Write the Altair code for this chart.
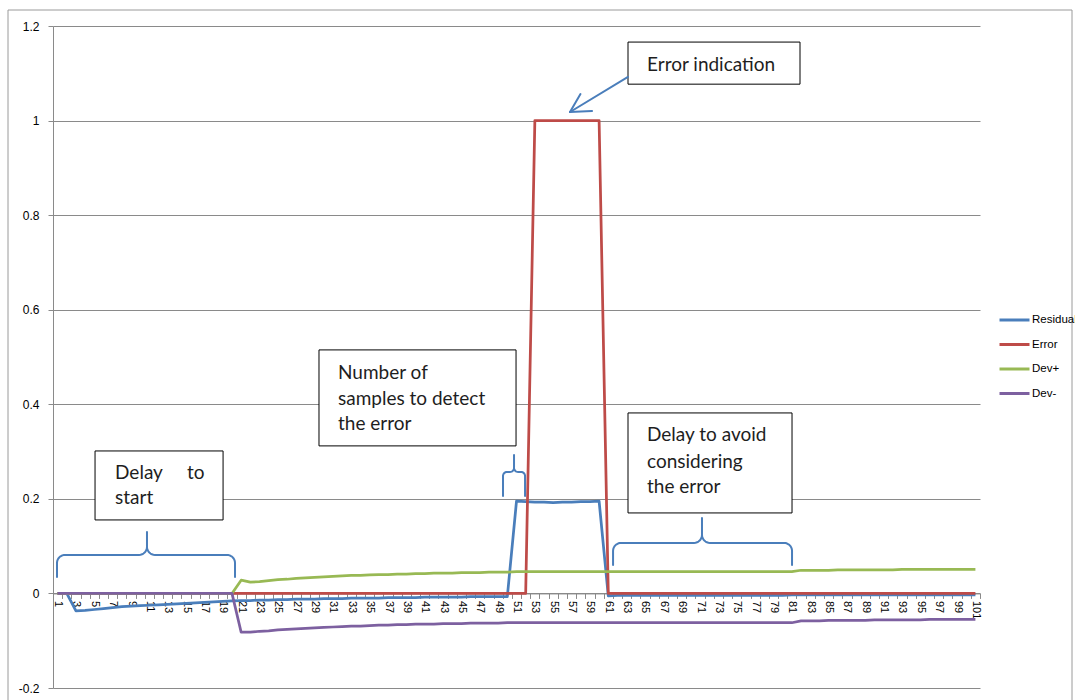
import math
import altair as alt
import pandas as pd

# ---------------- layout constants ----------------
W, H = 927, 662
X_DOMAIN = [0.5, 101.5]
Y_DOMAIN = [-0.2, 1.2]

# ---------------- data ----------------
categories = list(range(1, 102))
series_names = ["Residual", "Error", "Dev+", "Dev-"]
series_colors = ["#4A7EBB", "#BE4B48", "#98B954", "#7D60A0"]

residual = (
    [0.0, 0.0]
    + [-0.037, -0.036, -0.034, -0.032, -0.030, -0.028, -0.027, -0.026, -0.025,
       -0.024, -0.023, -0.022, -0.021, -0.020, -0.019, -0.018, -0.017, -0.016]
    + [-0.015, -0.015, -0.014, -0.014, -0.013, -0.013, -0.012, -0.012, -0.012, -0.011,
       -0.011, -0.011, -0.010, -0.010, -0.010, -0.010, -0.009, -0.009, -0.009, -0.009,
       -0.008, -0.008, -0.008, -0.008, -0.008, -0.007, -0.007, -0.007, -0.007, -0.007]
    + [0.195, 0.194, 0.193, 0.193, 0.192, 0.193, 0.193, 0.194, 0.194, 0.195]
    + [-0.005, -0.004, -0.004, -0.004, -0.004, -0.004, -0.004, -0.004, -0.004, -0.004,
       -0.004, -0.004, -0.004, -0.004, -0.004, -0.004, -0.004, -0.004, -0.004, -0.004,
       -0.003, -0.003, -0.003, -0.003, -0.003, -0.003, -0.003, -0.003, -0.003, -0.003,
       -0.003, -0.003, -0.003, -0.003, -0.003, -0.003, -0.003, -0.003, -0.003, -0.003,
       -0.003]
)

error = (
    [0] * 52
    + [1, 1, 1, 1, 1, 1, 1, 1]
    + [0] * 41
)

dev_plus = (
    [0.0] * 20
    + [0.028, 0.024, 0.025, 0.027, 0.029, 0.030, 0.032, 0.033, 0.034, 0.035,
       0.036, 0.037, 0.038, 0.038, 0.039, 0.040, 0.040, 0.041, 0.041, 0.042,
       0.042, 0.043, 0.043, 0.043, 0.044, 0.044, 0.044, 0.045, 0.045, 0.045]
    + [0.046] * 31
    + [0.049, 0.049, 0.049, 0.049, 0.050, 0.050, 0.050, 0.050, 0.050, 0.050,
       0.050, 0.051, 0.051, 0.051, 0.051, 0.051, 0.051, 0.051, 0.051, 0.051]
)

dev_minus = (
    [0.0] * 20
    + [-0.082, -0.082, -0.080, -0.079, -0.077, -0.076, -0.075, -0.074, -0.073, -0.072,
       -0.071, -0.070, -0.069, -0.069, -0.068, -0.067, -0.067, -0.066, -0.066, -0.065,
       -0.065, -0.065, -0.064, -0.064, -0.064, -0.063, -0.063, -0.063, -0.063, -0.062]
    + [-0.062] * 31
    + [-0.058, -0.058, -0.058, -0.057, -0.057, -0.057, -0.057, -0.057, -0.056, -0.056,
       -0.056, -0.056, -0.056, -0.056, -0.055, -0.055, -0.055, -0.055, -0.055, -0.055]
)

y_tick_values = [-0.2, 0.0, 0.2, 0.4, 0.6, 0.8, 1.0, 1.2]
x_label_values = list(range(1, 102, 2))
x_tick_bounds = [c - 0.5 for c in categories] + [101.5]
x_axis_values = sorted(set(x_label_values) | set(categories) | set(x_tick_bounds))

# annotation boxes (data units)
box_x1 = [63.15, 29.48, 5.08, 63.15]
box_x2 = [81.89, 50.95, 19.03, 81.02]
box_y1 = [1.166, 0.515, 0.3013, 0.3817]
box_y2 = [1.077, 0.312, 0.1554, 0.1702]

note_text = ["Error indication", "Number of", "samples to detect", "the error",
             "Delay", "to", "start", "Delay to avoid", "considering", "the error"]
note_x = [65.22, 31.55, 31.55, 31.55, 7.26, 15.10, 7.26, 65.22, 65.22, 65.22]
note_y = [1.1175, 0.4662, 0.4113, 0.3584, 0.2548, 0.2548, 0.2019, 0.3351, 0.2780, 0.2251]

# braces: left x, middle x, right x, end y, bar y, tip y, corner radius (px)
brace_xl = [0.936, 49.53, 61.52]
brace_xm = [10.74, 50.73, 71.21]
brace_xr = [20.33, 51.93, 81.02]
brace_ye = [0.0349, 0.2061, 0.0603]
brace_yb = [0.0814, 0.2569, 0.1068]
brace_yt = [0.1300, 0.2929, 0.1596]
brace_r = [8, 4, 8]

# arrow segments
arrow_x1 = [63.15, 56.83, 56.83]
arrow_y1 = [1.0922, 1.0181, 1.0181]
arrow_x2 = [56.83, 59.23, 57.97]
arrow_y2 = [1.0181, 1.0203, 1.0562]

# ---------------- build tables ----------------
series_values = [residual, error, dev_plus, dev_minus]
rows = []
for name, vals in zip(series_names, series_values):
    for c, v in zip(categories, vals):
        rows.append({"cat": c, "value": v, "series": name})
df = pd.DataFrame(rows)

boxes = pd.DataFrame({"bx1": box_x1, "bx2": box_x2, "by1": box_y1, "by2": box_y2})
notes = pd.DataFrame({"nx": note_x, "ny": note_y, "label": note_text})
arrows = pd.DataFrame({"ax1": arrow_x1, "ay1": arrow_y1, "ax2": arrow_x2, "ay2": arrow_y2})

rx_unit = (X_DOMAIN[1] - X_DOMAIN[0]) / W
ry_unit = (Y_DOMAIN[1] - Y_DOMAIN[0]) / H


def brace_points(xl, xm, xr, ye, yb, yt, r):
    rx, ry = r * rx_unit, r * ry_unit

    def arc(cx, cy, a0, a1, n=8):
        out = []
        for k in range(n + 1):
            a = math.radians(a0 + (a1 - a0) * k / n)
            out.append((cx + rx * math.cos(a), cy + ry * math.sin(a)))
        return out

    pts = [(xl, ye)]
    pts += arc(xl + rx, yb - ry, 180, 90)
    pts += arc(xm - rx, yb + ry, 270, 360)
    pts += [(xm, yt), (xm, yb + ry)]
    pts += arc(xm + rx, yb + ry, 180, 270)
    pts += arc(xr - rx, yb - ry, 90, 0)
    pts.append((xr, ye))
    return pts


brace_rows = []
for i in range(len(brace_xl)):
    pts = brace_points(brace_xl[i], brace_xm[i], brace_xr[i],
                       brace_ye[i], brace_yb[i], brace_yt[i], brace_r[i])
    for k, (px, py) in enumerate(pts):
        brace_rows.append({"brace": i, "k": k, "px": px, "py": py})
braces = pd.DataFrame(brace_rows)

# ---------------- scales / axes ----------------
xscale = alt.Scale(domain=X_DOMAIN, nice=False, zero=False)
yscale = alt.Scale(domain=Y_DOMAIN, nice=False, zero=False)

GRAY = "#8a8a8a"
AX_FONT = "Liberation Sans"

x_axis = alt.Axis(
    values=x_axis_values,
    labelExpr="datum.value % 2 == 1 ? format(datum.value, 'd') : ''",
    tickOpacity={"condition": {"test": "datum.value % 1 == 0", "value": 0}, "value": 1},
    offset=-(0.2 / 1.4) * H,
    domainColor=GRAY,
    tickColor=GRAY,
    tickSize=5,
    labelAngle=90,
    labelFont=AX_FONT,
    labelFontSize=11,
    labelColor="#000000",
    labelOverlap=False,
    labelFlush=False,
    labelPadding=2,
    grid=False,
    title=None,
)

y_axis = alt.Axis(
    values=y_tick_values,
    format="~g",
    labelExpr="replace(datum.label, '\u2212', '-')",
    grid=True,
    gridColor=GRAY,
    gridWidth=1,
    domainColor=GRAY,
    tickColor=GRAY,
    tickSize=5,
    labelFont=AX_FONT,
    labelFontSize=12,
    labelColor="#000000",
    labelPadding=9,
    title=None,
)

legend = alt.Legend(
    orient="none",
    legendX=945,
    legendY=277.5,
    title=None,
    symbolType="stroke",
    symbolSize=900,
    symbolStrokeWidth=3,
    labelFont=AX_FONT,
    labelFontSize=11.5,
    labelColor="#000000",
    labelOffset=1,
    rowPadding=1.5,
    padding=0,
)


def X(field):
    return alt.X(field, scale=xscale, axis=x_axis)


def Y(field):
    return alt.Y(field, scale=yscale, axis=y_axis)


# ---------------- layers ----------------
border = alt.Chart(pd.DataFrame({"a": [0]})).mark_rect(
    fill="transparent", stroke="#9a9a9a", strokeWidth=1
).encode(
    x=alt.value(-45), x2=alt.value(1019), y=alt.value(-16), y2=alt.value(700)
)

lines = alt.Chart(df).mark_line(strokeWidth=2.75, strokeJoin="round").encode(
    x=X("cat:Q"),
    y=Y("value:Q"),
    color=alt.Color("series:N",
                    scale=alt.Scale(domain=series_names, range=series_colors),
                    legend=legend),
)

box_layer = alt.Chart(boxes).mark_rect(
    fill="white", stroke="black", strokeWidth=1
).encode(
    x=X("bx1:Q"),
    x2="bx2:Q",
    y=Y("by1:Q"),
    y2="by2:Q",
)

text_layer = alt.Chart(notes).mark_text(
    align="left", baseline="middle", font="Lato", fontSize=19, color="#1e1e1e"
).encode(
    x=X("nx:Q"),
    y=Y("ny:Q"),
    text="label:N",
)

brace_layer = alt.Chart(braces).mark_line(
    color="#4A7EBB", strokeWidth=2, strokeJoin="round", strokeCap="round"
).encode(
    x=X("px:Q"),
    y=Y("py:Q"),
    detail="brace:N",
    order="k:Q",
)

arrow_layer = alt.Chart(arrows).mark_rule(
    color="#4A7EBB", strokeWidth=2, strokeCap="round"
).encode(
    x=X("ax1:Q"),
    y=Y("ay1:Q"),
    x2="ax2:Q",
    y2="ay2:Q",
)

chart = alt.layer(
    border, lines, box_layer, text_layer, brace_layer, arrow_layer
).properties(
    width=W,
    height=H,
    autosize=alt.AutoSizeParams(type="none"),
    padding={"left": 53, "top": 26, "right": 95, "bottom": 12},
    background="white",
).configure_view(stroke=None)

chart.save("out.html", embed_options={"renderer": "svg", "actions": False})
